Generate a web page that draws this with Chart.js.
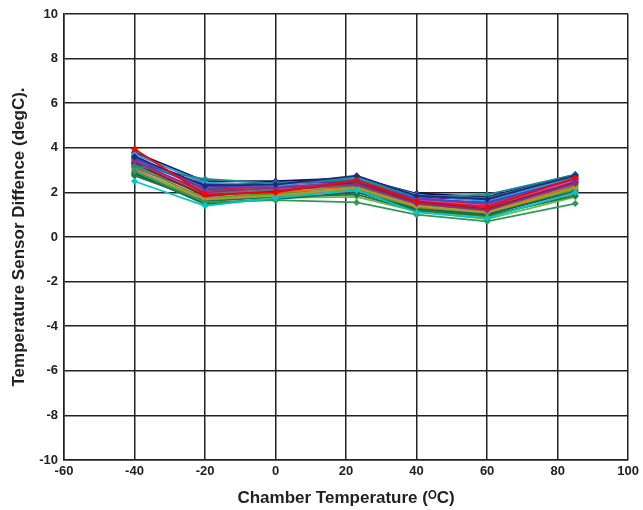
<!DOCTYPE html>
<html>
<head>
<meta charset="utf-8">
<script src="https://cdn.jsdelivr.net/npm/chart.js@4"></script>
<style>
  html, body { margin: 0; padding: 0; background: #fff; }
  #wrap { width: 643px; height: 510px; }
</style>
</head>
<body>
<div id="wrap"><canvas id="myChart" width="643" height="510"></canvas></div>
<script>
// chamber set points (degC)
const chamberTemps = [-40, -20, 0, 23, 40, 60, 85];

// sensor difference per unit at each chamber temperature (degC)
const unitDiffs = [
    [3.95, 1.90, 2.00, 2.55, 1.60, 1.35, 2.65],
    [2.50, 1.40, 1.75, 2.10, 1.10, 0.85, 2.00],
    [2.95, 1.55, 1.65, 1.55, 1.00, 0.70, 1.50],
    [3.60, 2.30, 2.35, 2.75, 1.85, 1.70, 2.75],
    [3.40, 2.00, 2.20, 2.35, 1.50, 1.20, 2.40],
    [3.20, 2.60, 2.40, 2.60, 1.80, 1.90, 2.80],
    [3.00, 1.70, 1.85, 2.20, 1.40, 1.10, 2.20],
    [3.50, 2.15, 2.45, 2.50, 1.70, 1.55, 2.60],
    [3.30, 1.85, 2.05, 2.45, 1.55, 1.25, 2.45],
    [3.10, 1.95, 2.10, 2.30, 1.45, 1.30, 2.35],
    [3.45, 1.80, 2.15, 2.40, 1.65, 1.40, 2.55],
    [2.75, 1.60, 1.80, 1.90, 1.20, 0.95, 1.85],
    [3.70, 2.45, 2.30, 2.65, 1.90, 1.60, 2.70],
    [3.25, 2.05, 2.00, 2.25, 1.35, 1.15, 2.30],
    [3.55, 2.25, 2.25, 2.45, 1.75, 1.50, 2.65],
    [2.85, 1.50, 1.70, 2.00, 1.25, 1.00, 2.05],
    [3.65, 2.10, 2.30, 2.60, 1.70, 1.45, 2.55],
    [3.15, 1.75, 1.95, 2.15, 1.30, 1.05, 2.15],
    [3.35, 2.35, 2.40, 2.50, 1.80, 1.65, 2.60],
    [3.05, 1.65, 1.90, 2.05, 1.30, 1.00, 2.10],
    [3.75, 2.40, 2.35, 2.70, 1.85, 1.75, 2.75],
    [2.80, 1.70, 1.80, 2.10, 1.20, 0.90, 1.95],
    [3.45, 1.90, 2.10, 2.35, 1.60, 1.35, 2.50],
    [3.20, 2.00, 2.20, 2.25, 1.45, 1.20, 2.25],
    [3.55, 2.20, 2.15, 2.55, 1.65, 1.55, 2.70],
    [3.80, 2.50, 2.50, 2.65, 1.95, 1.80, 2.80],
    [2.90, 1.45, 1.75, 1.80, 1.15, 0.80, 1.80],
    [3.30, 2.05, 2.25, 2.40, 1.55, 1.30, 2.45]
];

const unitColors = [
    '#ff0000', '#00c8c8', '#2e9a5a', '#1f2a7a', '#8a2e8a', '#1a8a8a', '#a8a020',
    '#3050c8', '#8a1a2a', '#707070', '#d040c0', '#207840', '#30a0d8', '#d07020',
    '#7040b0', '#106060', '#c02030', '#50a030', '#402080', '#d06090', '#4070a0',
    '#909040', '#a05090', '#30906a', '#e05040', '#101060', '#60c040', '#6a2a7a'
];

const xTicks = { min: -60, max: 100, step: 20 };
const yTicks = { min: -10, max: 10, step: 2 };

const tickFont = { family: 'Liberation Sans', size: 13, weight: 'bold' };
const titleFont = { family: 'Liberation Sans', size: 17, weight: 'bold' };

const datasets = unitDiffs.map((vals, i) => ({
    label: 'Unit ' + (i + 1),
    data: vals.map((v, j) => ({ x: chamberTemps[j], y: v })),
    borderColor: unitColors[i],
    backgroundColor: unitColors[i],
    borderWidth: 1.8,
    pointStyle: 'rectRot',
    pointRadius: 3.5,
    pointBorderWidth: 0,
    fill: false,
    tension: 0
}));

const ctx = document.getElementById('myChart').getContext('2d');

const chart = new Chart(ctx, {
    type: 'line',
    data: { datasets: datasets },
    options: {
        responsive: false,
        animation: false,
        layout: { padding: { top: 14, right: 14, left: 0, bottom: 0 } },
        plugins: {
            legend: { display: false },
            tooltip: { enabled: false }
        },
        scales: {
            x: {
                type: 'linear',
                min: xTicks.min,
                max: xTicks.max,
                afterFit: s => { s.height = 50; },
                ticks: { stepSize: xTicks.step, font: tickFont, color: '#222', padding: 4 },
                grid: { color: '#222', lineWidth: 1.5, drawTicks: false },
                border: { color: '#222', width: 1.5 },
                title: {
                    display: true,
                    text: 'Chamber Temperature (ᴼC)',
                    font: titleFont,
                    color: '#222',
                    padding: { top: 0, bottom: 1 }
                }
            },
            y: {
                min: yTicks.min,
                max: yTicks.max,
                afterFit: s => { s.width = 64; },
                ticks: { stepSize: yTicks.step, font: tickFont, color: '#222', padding: 6 },
                grid: { color: '#222', lineWidth: 1.5, drawTicks: false },
                border: { color: '#222', width: 1.5 },
                title: {
                    display: true,
                    text: 'Temperature Sensor Diffence (degC).',
                    font: titleFont,
                    color: '#222',
                    padding: { top: 9, bottom: 0 }
                }
            }
        }
    }
});
</script>
</body>
</html>
